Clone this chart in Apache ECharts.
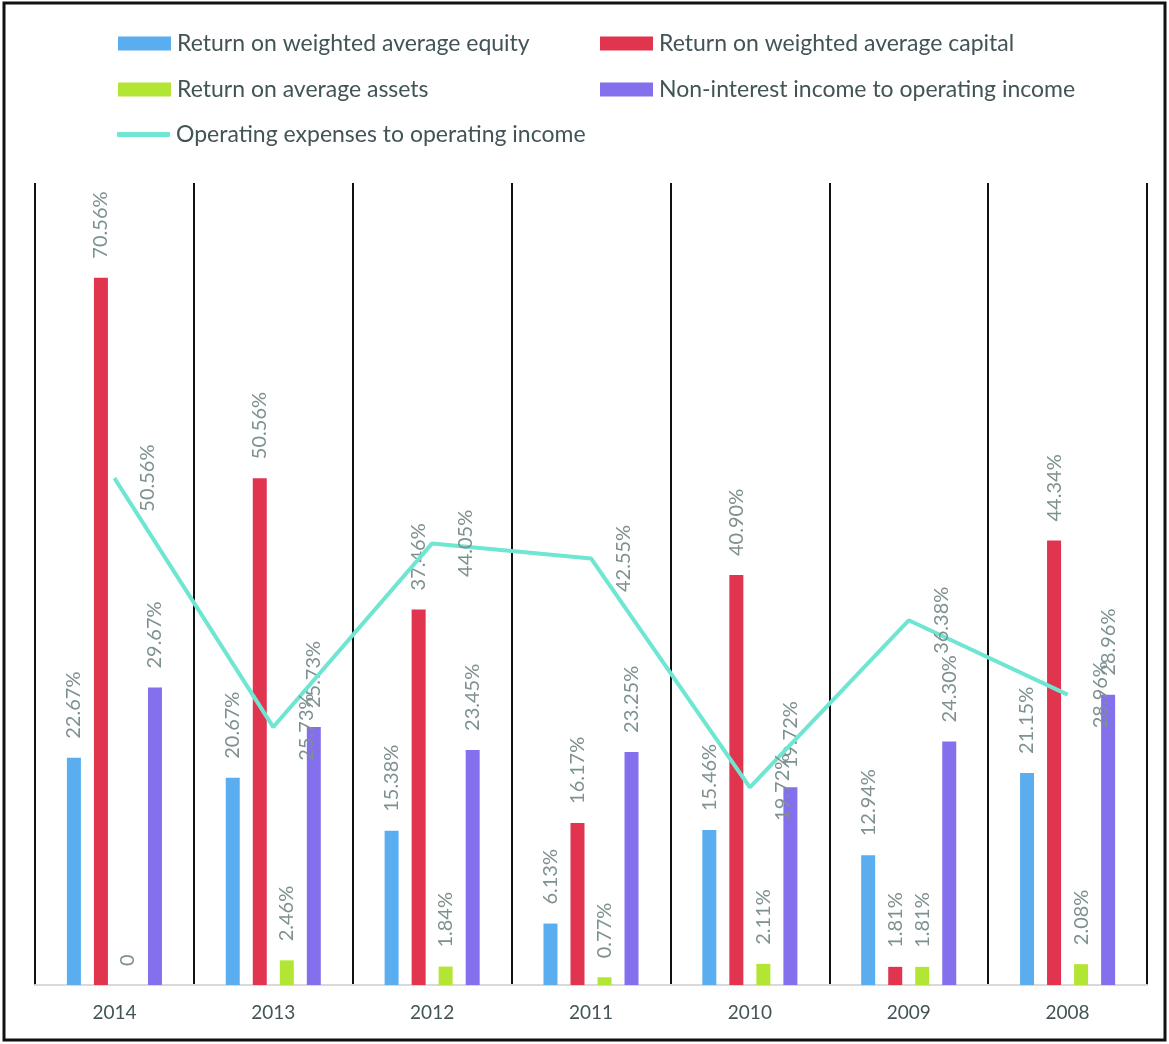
<!DOCTYPE html>
<html>
<head>
<meta charset="utf-8">
<script src="https://cdn.jsdelivr.net/npm/echarts@6/dist/echarts.min.js"></script>
<style>
  html, body { margin: 0; padding: 0; background: #ffffff; }
  #chart { width: 1169px; height: 1044px; }
</style>
</head>
<body>
<div id="chart"></div>
<script>
// Bank profitability ratios by year (%)
const years = ['2014', '2013', '2012', '2011', '2010', '2009', '2008'];
const equityReturn = [22.67, 20.67, 15.38, 6.13, 15.46, 12.94, 21.15];
const capitalReturn = [70.56, 50.56, 37.46, 16.17, 40.90, 1.81, 44.34];
const assetsReturn = [0, 2.46, 1.84, 0.77, 2.11, 1.81, 2.08];
const nonInterestRatio = [29.67, 25.73, 23.45, 23.25, 19.72, 24.30, 28.96];
const costIncomeRatio = [50.56, 25.73, 44.05, 42.55, 19.72, 36.38, 28.96];

const seriesNames = [
  'Return on weighted average equity',
  'Return on weighted average capital',
  'Return on average assets',
  'Non-interest income to operating income',
  'Operating expenses to operating income'
];
const colors = ['#5aaef0', '#e0344f', '#b3e634', '#8470ec', '#6ee6d2'];

const FONT = 'Lato';
const labelColor = '#7e9090';
const textColor = '#425456';

function pct(v) { return v === 0 ? '0' : v.toFixed(2) + '%'; }

const barLabel = {
  show: true,
  position: 'top',
  distance: 19,
  rotate: 90,
  align: 'left',
  verticalAlign: 'middle',
  color: labelColor,
  fontFamily: FONT,
  fontSize: 20,
  formatter: p => pct(p.value)
};

function barSeries(i, data) {
  return {
    name: seriesNames[i],
    type: 'bar',
    data: data,
    barWidth: 14,
    barGap: '93%',
    itemStyle: { color: colors[i] },
    label: barLabel
  };
}

function legendRow(name, left, top, isLine) {
  return {
    data: [{ name: name, icon: isLine ? 'roundRect' : 'rect' }],
    left: left,
    top: top,
    padding: 0,
    itemWidth: 53,
    itemHeight: isLine ? 5 : 14,
    itemGap: 0,
    selectedMode: false,
    textStyle: { fontFamily: FONT, fontSize: 23, color: textColor, padding: [0, 0, 0, 1] }
  };
}

const chart = echarts.init(document.getElementById('chart'), null, { renderer: 'canvas' });
chart.setOption({
  animation: false,
  backgroundColor: '#ffffff',
  color: colors,
  graphic: [{
    type: 'rect',
    shape: { x: 4, y: 3, width: 1161, height: 1037 },
    style: { fill: 'none', stroke: '#111111', lineWidth: 3 },
    silent: true
  }],
  legend: [
    legendRow(seriesNames[0], 118, 32, false),
    legendRow(seriesNames[1], 600, 32, false),
    legendRow(seriesNames[2], 118, 78, false),
    legendRow(seriesNames[3], 600, 78, false),
    legendRow(seriesNames[4], 117, 123, true)
  ],
  grid: { left: 35, right: 22, top: 183, bottom: 59, containLabel: false },
  xAxis: {
    type: 'category',
    data: years,
    boundaryGap: true,
    axisLine: { show: true, lineStyle: { color: '#d9d9d9', width: 2 } },
    axisTick: { show: false },
    axisLabel: { color: textColor, fontFamily: FONT, fontSize: 19, margin: 18 },
    splitLine: { show: true, lineStyle: { color: '#111111', width: 2 } }
  },
  yAxis: {
    type: 'value',
    min: 0,
    max: 80,
    interval: 10,
    show: false
  },
  series: [
    barSeries(0, equityReturn),
    barSeries(1, capitalReturn),
    barSeries(2, assetsReturn),
    barSeries(3, nonInterestRatio),
    {
      name: seriesNames[4],
      type: 'line',
      data: costIncomeRatio,
      symbol: 'circle',
      symbolSize: 1,
      z: 5,
      lineStyle: { color: colors[4], width: 4 },
      itemStyle: { color: colors[4] },
      label: {
        show: true,
        position: 'inside',
        offset: [0, 33],
        rotate: 90,
        align: 'center',
        verticalAlign: 'middle',
        color: labelColor,
        fontFamily: FONT,
        fontSize: 20,
        formatter: p => pct(p.value)
      }
    }
  ]
});
</script>
</body>
</html>
